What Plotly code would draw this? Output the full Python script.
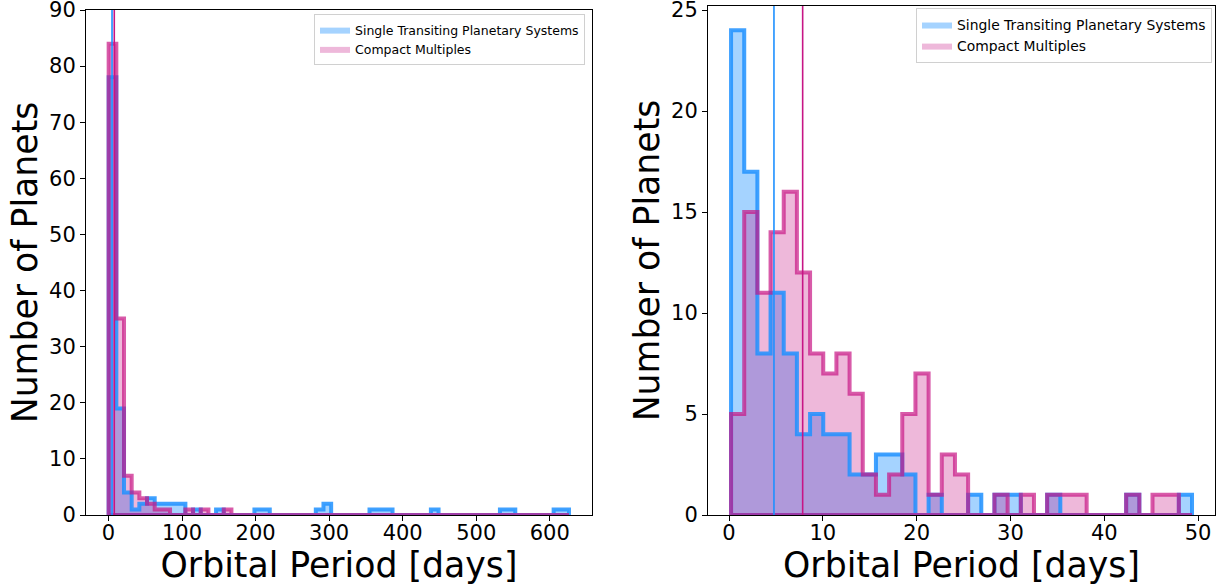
import numpy as np
import plotly.graph_objects as go

# ---------------- data ----------------
series_names = ["Single Transiting Planetary Systems", "Compact Multiples"]

# left panel: full period range, 60 shared bins
left_bin_start, left_bin_end, left_nbins = 0.217, 626.1, 60
left_single = [78, 19, 4, 1, 2, 3, 2, 2, 2, 2, 0, 1, 0, 0, 1, 0, 0, 0, 0, 1,
               1, 0, 0, 0, 0, 0, 0, 1, 2, 0, 0, 0, 0, 0, 1, 1, 1, 0, 0, 0,
               0, 0, 1, 0, 0, 0, 0, 0, 0, 0, 0, 1, 1, 0, 0, 0, 0, 0, 1, 1]
left_multi = [84, 35, 7, 4, 3, 2, 1, 1, 0, 0, 1, 0, 1, 0, 0, 1, 0, 0, 0, 0,
              0, 0, 0, 0, 0, 0, 0, 0, 0, 0, 0, 0, 0, 0, 0, 0, 0, 0, 0, 0,
              0, 0, 0, 0, 0, 0, 0, 0, 0, 0, 0, 0, 0, 0, 0, 0, 0, 0, 0, 0]

# right panel: periods < 50 days, 35 shared bins
right_bin_start, right_bin_end, right_nbins = 0.217, 49.35, 35
right_single = [24, 17, 8, 11, 8, 4, 5, 4, 4, 2, 2, 3, 3, 2, 0, 1, 0, 0, 1, 0,
                1, 1, 0, 0, 1, 0, 0, 0, 0, 0, 1, 0, 0, 0, 1]
right_multi = [5, 15, 11, 14, 16, 12, 8, 7, 8, 6, 2, 1, 2, 5, 7, 1, 3, 2, 0, 0,
               1, 0, 1, 0, 1, 1, 1, 0, 0, 0, 1, 0, 1, 1, 0]

# median periods (vertical lines)
median_single = 4.79
median_multi = 7.85

left_xticks = [0, 100, 200, 300, 400, 500, 600]
left_yticks = [0, 10, 20, 30, 40, 50, 60, 70, 80, 90]
right_xticks = [0, 10, 20, 30, 40, 50]
right_yticks = [0, 5, 10, 15, 20, 25]

# ---------------- styling ----------------
W, H = 1224, 588
FONT = "DejaVu Sans"
BLUE = (30, 144, 255)
PINK = (199, 21, 133)


def rgba(c, a):
    return f"rgba({c[0]},{c[1]},{c[2]},{a})"


def step_path(edges, counts):
    xs = [edges[0]] + list(edges[:-1]) + [edges[-1], edges[0]]
    ys = [0] + list(counts) + [0, 0]
    return xs, ys


fig = go.Figure()

panels = [
    ("x", "y", "legend", np.linspace(left_bin_start, left_bin_end, left_nbins + 1), left_single, left_multi),
    ("x2", "y2", "legend2", np.linspace(right_bin_start, right_bin_end, right_nbins + 1), right_single, right_multi),
]

for xa, ya, lg, edges, single, multi in panels:
    sx, sy = step_path(edges, single)
    mx, my = step_path(edges, multi)
    fig.add_trace(go.Scatter(x=sx, y=sy, mode="lines", line=dict(width=0, shape="hv"),
                             fill="toself", fillcolor=rgba(BLUE, 0.4), name=series_names[0],
                             xaxis=xa, yaxis=ya, legend=lg, hoverinfo="skip"))
    fig.add_trace(go.Scatter(x=mx, y=my, mode="lines", line=dict(width=0, shape="hv"),
                             fill="toself", fillcolor=rgba(PINK, 0.3), name=series_names[1],
                             xaxis=xa, yaxis=ya, legend=lg, hoverinfo="skip"))
    fig.add_trace(go.Scatter(x=sx, y=sy, mode="lines",
                             line=dict(width=4, shape="hv", color=rgba(BLUE, 0.85)),
                             xaxis=xa, yaxis=ya, showlegend=False, hoverinfo="skip"))
    fig.add_trace(go.Scatter(x=mx, y=my, mode="lines",
                             line=dict(width=4, shape="hv", color=rgba(PINK, 0.7)),
                             xaxis=xa, yaxis=ya, showlegend=False, hoverinfo="skip"))

shapes = []
for xa in ["x", "x2"]:
    for m, c in [(median_single, BLUE), (median_multi, PINK)]:
        shapes.append(dict(type="line", xref=xa, yref=("y" if xa == "x" else "y2") + " domain",
                           x0=m, x1=m, y0=0, y1=1, line=dict(color=rgba(c, 1), width=1.6),
                           layer="above"))

axis_common = dict(showline=True, linecolor="black", linewidth=1, mirror=True,
                   ticks="outside", ticklen=5, tickwidth=1, tickcolor="black",
                   showgrid=False, zeroline=False, automargin=False,
                   ticklabeloverflow="allow",
                   tickfont=dict(family=FONT, size=21, color="black"))
x_extra = dict(ticklabelstandoff=-6)

title_font = dict(family=FONT, size=34.7, color="black")

fig.update_layout(
    width=W, height=H,
    margin=dict(l=0, r=0, t=0, b=0, autoexpand=False),
    paper_bgcolor="white", plot_bgcolor="white",
    font=dict(family=FONT, color="black"),
    shapes=shapes,
    xaxis=dict(domain=[86 / W, 592 / W], range=[-30.6, 657.4], tickvals=left_xticks,
               anchor="y", title=dict(text="Orbital Period [days]", standoff=6, font=title_font),
               **axis_common, **x_extra),
    yaxis=dict(domain=[1 - 515 / H, 1 - 10 / H], range=[0, 90], tickvals=left_yticks,
               anchor="x", title=dict(text="Number of Planets", standoff=0, font=title_font),
               **axis_common),
    xaxis2=dict(domain=[708 / W, 1215 / W], range=[-2.24, 51.8], tickvals=right_xticks,
                anchor="y2", title=dict(text="Orbital Period [days]", standoff=6, font=title_font),
                **axis_common, **x_extra),
    yaxis2=dict(domain=[1 - 515 / H, 1 - 6 / H], range=[0, 25.2], tickvals=right_yticks,
                anchor="x2", title=dict(text="Number of Planets", standoff=0, font=title_font),
                **axis_common),
    legend=dict(x=585 / W, y=1 - 14 / H, xanchor="right", yanchor="top",
                bgcolor="rgba(255,255,255,0.8)", bordercolor="#d0d0d0", borderwidth=1,
                font=dict(family=FONT, size=12.5), itemwidth=30, tracegroupgap=0),
    legend2=dict(x=1212 / W, y=1 - 8 / H, xanchor="right", yanchor="top",
                 bgcolor="rgba(255,255,255,0.8)", bordercolor="#d0d0d0", borderwidth=1,
                 font=dict(family=FONT, size=13.9), itemwidth=30, tracegroupgap=0),
)

fig.write_html("out.html")
